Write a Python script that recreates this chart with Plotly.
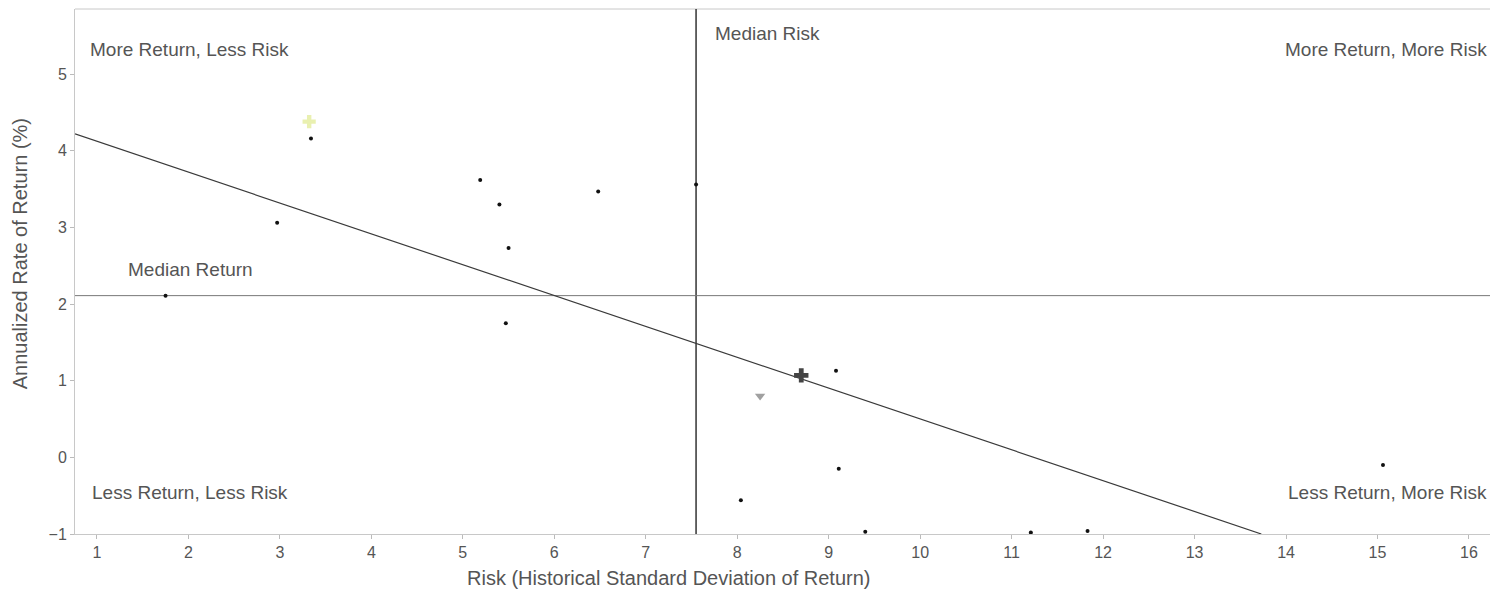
import plotly.graph_objects as go

# Data
risk = [1.75, 2.97, 3.34, 5.19, 5.40, 5.50, 5.47, 6.48, 7.55, 9.08, 8.04, 9.11, 9.40, 11.21, 11.83, 15.06]
ret = [2.11, 3.06, 4.16, 3.62, 3.30, 2.73, 1.75, 3.47, 3.56, 1.13, -0.56, -0.15, -0.97, -0.98, -0.96, -0.10]

highlight_yellow = {"x": [3.32], "y": [4.38]}
highlight_cross = {"x": [8.70], "y": [1.07]}
highlight_grey = {"x": [8.25], "y": [0.80]}

median_risk = 7.55
median_return = 2.11

fit_x = [0.76, 13.73]
fit_y = [4.22, -1.0]

x_ticks = list(range(1, 17))
y_ticks = [-1, 0, 1, 2, 3, 4, 5]
x_range = [0.76, 16.23]
y_range = [-1.0, 5.85]

x_title = "Risk (Historical Standard Deviation of Return)"
y_title = "Annualized Rate of Return (%)"

grey = "#555555"
FAM = "Liberation Sans, Arial, sans-serif"

fig = go.Figure()

fig.add_trace(go.Scatter(x=fit_x, y=fit_y, mode="lines",
                         line=dict(color="#3a3a3a", width=1.2), hoverinfo="skip", showlegend=False))
fig.add_trace(go.Scatter(x=risk, y=ret, mode="markers",
                         marker=dict(color="#111111", size=4, symbol="circle"), showlegend=False))
fig.add_trace(go.Scatter(x=highlight_yellow["x"], y=highlight_yellow["y"], mode="markers",
                         marker=dict(color="rgba(225,235,150,0.75)", size=11, symbol="cross"), showlegend=False))
fig.add_trace(go.Scatter(x=highlight_cross["x"], y=highlight_cross["y"], mode="markers",
                         marker=dict(color="#444444", size=12, symbol="cross"), showlegend=False))
fig.add_trace(go.Scatter(x=highlight_grey["x"], y=highlight_grey["y"], mode="markers",
                         marker=dict(color="#a0a0a0", size=9, symbol="triangle-down"), showlegend=False))

fig.add_shape(type="line", x0=median_risk, x1=median_risk, y0=y_range[0], y1=y_range[1],
              line=dict(color="#333333", width=1.5), layer="below")
fig.add_shape(type="line", x0=x_range[0], x1=x_range[1], y0=median_return, y1=median_return,
              line=dict(color="#777777", width=1), layer="below")
# top frame line
fig.add_shape(type="line", xref="paper", yref="paper", x0=0, x1=1, y0=1, y1=1,
              line=dict(color="#c8c8c8", width=1), layer="below")

font_lbl = dict(family=FAM, size=19, color=grey)
annotations = [
    dict(text="More Return, Less Risk", x=0, y=5.32, xref="paper", xanchor="left", xshift=13),
    dict(text="Median Risk", x=median_risk, y=5.53, xanchor="left", xshift=17),
    dict(text="More Return, More Risk", x=1, y=5.32, xref="paper", xanchor="right", xshift=-1),
    dict(text="Median Return", x=1.32, y=2.45, xanchor="left"),
    dict(text="Less Return, Less Risk", x=0, y=-0.46, xref="paper", xanchor="left", xshift=15),
    dict(text="Less Return, More Risk", x=1, y=-0.46, xref="paper", xanchor="right", xshift=-1),
]
for a in annotations:
    a.setdefault("xref", "x")
    a["yref"] = "y"
    a["showarrow"] = False
    a["font"] = font_lbl
    a["yanchor"] = "middle"

# axis titles placed as in the reference (not centred on the axes)
annotations.append(dict(text=x_title, xref="x", yref="paper", x=7.25, y=0, yshift=-44,
                        xanchor="center", yanchor="middle", showarrow=False,
                        font=dict(family=FAM, size=20, color=grey)))
annotations.append(dict(text=y_title, xref="paper", yref="y", x=0, y=2.65, xshift=-55,
                        xanchor="center", yanchor="middle", textangle=-90, showarrow=False,
                        font=dict(family=FAM, size=20, color=grey)))
fig.update_layout(annotations=annotations)

fig.update_layout(
    width=1490, height=592,
    margin=dict(l=75, r=0, t=9, b=58, autoexpand=False),
    paper_bgcolor="white", plot_bgcolor="white",
    font=dict(family=FAM, size=16, color=grey),
    hovermode=False,
    xaxis=dict(range=x_range, tickvals=x_ticks, showgrid=False, zeroline=False,
               showline=True, linecolor="#c8c8c8", linewidth=1,
               ticks="outside", ticklen=4, tickcolor="#bbbbbb",
               tickfont=dict(size=16, color=grey)),
    yaxis=dict(range=y_range, tickvals=y_ticks, showgrid=False, zeroline=False,
               showline=True, linecolor="#c8c8c8", linewidth=1,
               ticks="outside", ticklen=4, tickcolor="#bbbbbb",
               tickfont=dict(size=16, color=grey)),
)

fig.write_html("out.html", config={"displayModeBar": False},
               post_script="document.body.style.margin='0';document.body.style.overflow='hidden';")
